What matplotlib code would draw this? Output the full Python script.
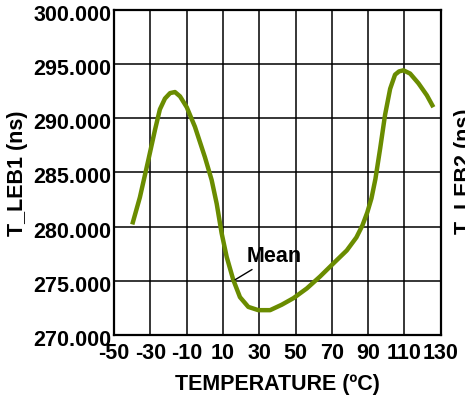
import matplotlib
matplotlib.use("Agg")
from matplotlib import pyplot as plt
from matplotlib import transforms

# mean T_LEB1 vs temperature
temps = [-39.9, -35.7, -31.1, -27.4, -24.7, -21.9, -19.1, -16.4, -13.6, -9.9, -5.4,
         0.1, 3.8, 6.6, 9.3, 12.1, 15.7, 19.4, 24.0, 29.5, 36.0, 42.4, 48.8, 56.2,
         63.5, 70.8, 78.2, 83.5, 86.8, 89.5, 91.8, 94.0, 96.6, 99.3, 102.1, 104.8,
         107.0, 109.4, 113.1, 117.7, 122.3, 125.9]
t_leb1 = [280.2, 282.7, 286.1, 288.9, 290.8, 291.8, 292.3, 292.4, 292.0, 291.0, 289.2,
          286.4, 284.3, 282.1, 279.4, 277.2, 275.1, 273.5, 272.6, 272.3, 272.3, 272.8,
          273.4, 274.3, 275.4, 276.6, 277.8, 279.0, 280.1, 281.3, 282.6, 284.4, 287.2,
          290.3, 292.7, 294.0, 294.3, 294.4, 294.1, 293.2, 292.1, 291.0]

x_ticks = [-50, -30, -10, 10, 30, 50, 70, 90, 110, 130]
y_ticks = [270, 275, 280, 285, 290, 295, 300]

plt.rcParams['font.family'] = ['Liberation Sans', 'DejaVu Sans']
plt.rcParams['font.weight'] = 'bold'
plt.rcParams['axes.unicode_minus'] = False

fig = plt.figure(figsize=(4.65, 3.98), dpi=100)
ax = fig.add_axes([0.245, 0.158, 0.703, 0.818])

ax.plot(temps, t_leb1, c='#6a8c00', lw=3.2, solid_capstyle='butt',
        solid_joinstyle='round', zorder=3)

ax.set_xlim(-50, 130)
ax.set_ylim(270, 300)
ax.set_xticks(x_ticks)
ax.set_yticks(y_ticks)
ax.set_yticklabels(['%.3f' % v for v in y_ticks])
ax.tick_params(axis='both', length=0, labelsize=15.5, colors='black')
ax.tick_params(axis='x', pad=6)
ax.tick_params(axis='y', pad=2)
# y labels sit a little below their grid lines in the original
shift = transforms.ScaledTranslation(0, -3 / 100, fig.dpi_scale_trans)
for lab in ax.get_yticklabels():
    lab.set_transform(lab.get_transform() + shift)
ax.grid(True, color='black', lw=1.1)
for s in ax.spines.values():
    s.set_linewidth(1.6)

ax.set_xlabel('TEMPERATURE (ºC)', fontsize=15.5, fontweight='bold', labelpad=7)
fig.text(0.015, 0.565, 'T_LEB1 (ns)', rotation=90, fontsize=15.5, fontweight='bold',
         ha='left', va='center')
# second axis label, cut off by the right edge as in the original
fig.text(0.977, 0.57, 'T_LEB2 (ns)', rotation=90, fontsize=15.5, fontweight='bold',
         ha='left', va='center')

ax.annotate('Mean', xy=(16.7, 275.1), xytext=(23.0, 276.3), fontsize=15.5,
            fontweight='bold', ha='left', va='bottom',
            arrowprops=dict(arrowstyle='-', color='black', lw=1, shrinkA=0, shrinkB=0))

plt.savefig('out.png', dpi=100)
